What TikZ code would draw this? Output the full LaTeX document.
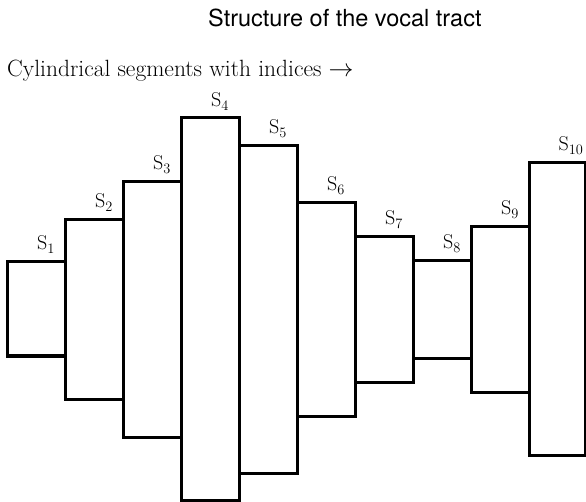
\documentclass[tikz,border=0pt]{standalone}
\usepackage{fontspec}
\usepackage{tikz}
\newfontfamily\titlefont{TeX Gyre Heros}

\begin{document}
\begin{tikzpicture}[x=1pt,y=-1pt,
		seg/.style={line width=3pt,line join=miter},
		segname/.style={anchor=base,inner sep=0pt,font=\fontsize{20}{24}\selectfont}]
		\useasboundingbox (0,0) rectangle (586,502);
%		\draw[help lines,step=50] (0,0) grid (586,502);
		\path (7,262) coordinate (s1_tl);
		\path (65,356) coordinate (s1_br);
		\path (65,220) coordinate (s2_tl);
		\path (123,399) coordinate (s2_br);
		\path (123,182) coordinate (s3_tl);
		\path (181,437) coordinate (s3_br);
		\path (181,118) coordinate (s4_tl);
		\path (239,500) coordinate (s4_br);
		\path (239,146) coordinate (s5_tl);
		\path (297,473) coordinate (s5_br);
		\path (297,203) coordinate (s6_tl);
		\path (355,416) coordinate (s6_br);
		\path (355,237) coordinate (s7_tl);
		\path (413,382) coordinate (s7_br);
		\path (413,261) coordinate (s8_tl);
		\path (471,358) coordinate (s8_br);
		\path (471,227) coordinate (s9_tl);
		\path (529,392) coordinate (s9_br);
		\path (529,163) coordinate (s10_tl);
		\path (585.5,455) coordinate (s10_br);

		\path (208,27) node(title) [anchor=base west,inner sep=0pt] {\fontsize{23.5}{28}\titlefont Structure of the vocal tract};
		\path (7,77) node(indices) [anchor=base west,inner sep=0pt] {\fontsize{23.5}{28}\selectfont Cylindrical segments with indices $\rightarrow$};

		\draw[seg] (s1_tl) rectangle (s1_br);
		\draw[seg] (s2_tl) rectangle (s2_br);
		\draw[seg] (s3_tl) rectangle (s3_br);
		\draw[seg] (s4_tl) rectangle (s4_br);
		\draw[seg] (s5_tl) rectangle (s5_br);
		\draw[seg] (s6_tl) rectangle (s6_br);
		\draw[seg] (s7_tl) rectangle (s7_br);
		\draw[seg] (s8_tl) rectangle (s8_br);
		\draw[seg] (s9_tl) rectangle (s9_br);
		\draw[seg] (s10_tl) rectangle (s10_br);

		\path (46,250) node(s1) [segname] {$\mathrm{S}_{1}$};
		\path (104,208) node(s2) [segname] {$\mathrm{S}_{2}$};
		\path (162,170) node(s3) [segname] {$\mathrm{S}_{3}$};
		\path (220,107) node(s4) [segname] {$\mathrm{S}_{4}$};
		\path (278,134) node(s5) [segname] {$\mathrm{S}_{5}$};
		\path (336,191) node(s6) [segname] {$\mathrm{S}_{6}$};
		\path (394,225) node(s7) [segname] {$\mathrm{S}_{7}$};
		\path (452,249) node(s8) [segname] {$\mathrm{S}_{8}$};
		\path (510,215) node(s9) [segname] {$\mathrm{S}_{9}$};
		\path (571,151) node(s10) [segname] {$\mathrm{S}_{10}$};
	\end{tikzpicture}
\end{document}
